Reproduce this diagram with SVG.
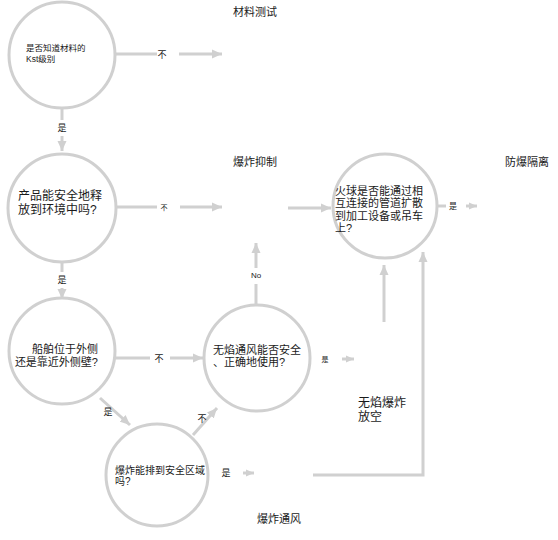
<svg xmlns="http://www.w3.org/2000/svg" width="558" height="540" viewBox="0 0 558 540">
<style>
.node circle{fill:#ffffff;stroke:#d0d0d0;stroke-width:3}
.t{font-family:"Liberation Sans","Noto Sans CJK SC",sans-serif;fill:#1a1a1a}
.lbl{font-family:"Liberation Sans","Noto Sans CJK SC",sans-serif;fill:#1a1a1a;text-anchor:middle}
.c line,.c polyline{stroke:#d0d0d0;stroke-width:3;fill:none}
</style>
<defs>
<marker id="ah" markerUnits="userSpaceOnUse" markerWidth="11" markerHeight="10" refX="10" refY="5" orient="auto" viewBox="0 0 11 10">
<path d="M0,0.5 L10,5 L0,9.5 z" fill="#d0d0d0"/>
</marker>
<marker id="ahs" markerUnits="userSpaceOnUse" markerWidth="9" markerHeight="8" refX="8" refY="4" orient="auto" viewBox="0 0 9 8">
<path d="M0,0.5 L8,4 L0,7.5 z" fill="#d0d0d0"/>
</marker>
</defs>
<rect width="558" height="540" fill="#ffffff"/>

<g id="connectors" class="c">
<line x1="116" y1="54" x2="157" y2="54"/>
<line x1="179" y1="54" x2="222" y2="54" marker-end="url(#ah)"/>
<line x1="62" y1="107" x2="62" y2="120"/>
<line x1="62" y1="136" x2="62" y2="151" marker-end="url(#ah)"/>
<line x1="116" y1="207" x2="157" y2="207"/>
<line x1="180" y1="207" x2="222" y2="207" marker-end="url(#ah)"/>
<line x1="288" y1="208" x2="331" y2="208" marker-end="url(#ah)"/>
<line x1="62" y1="262" x2="62" y2="272"/>
<line x1="62" y1="288" x2="62" y2="299" marker-end="url(#ah)"/>
<line x1="115" y1="358" x2="150" y2="358"/>
<line x1="170" y1="358" x2="203" y2="358" marker-end="url(#ah)"/>
<line x1="100" y1="398" x2="130" y2="425" marker-end="url(#ah)"/>
<line x1="193" y1="435" x2="217" y2="408" marker-end="url(#ah)"/>
<line x1="243" y1="473" x2="254" y2="473" marker-end="url(#ahs)"/>
<line x1="342" y1="359" x2="354" y2="359" marker-end="url(#ahs)"/>
<line x1="384" y1="322" x2="384" y2="265" marker-end="url(#ah)"/>
<polyline points="313,475 423,475 423,252" marker-end="url(#ah)"/>
<line x1="256" y1="305" x2="256" y2="284"/>
<line x1="256" y1="268" x2="256" y2="243" marker-end="url(#ah)"/>
<line x1="437" y1="206" x2="446" y2="206"/>
<line x1="466" y1="206" x2="477" y2="206" marker-end="url(#ahs)"/>
<text class="lbl" x="162" y="57.5" font-size="9">不</text>
<text class="lbl" x="62" y="130.5" font-size="9">是</text>
<text class="lbl" x="164" y="210" font-size="7">不</text>
<text class="lbl" x="62" y="283" font-size="9">是</text>
<text class="lbl" x="159" y="361.5" font-size="9">不</text>
<text class="lbl" x="108" y="415" font-size="9">是</text>
<text class="lbl" x="202" y="422" font-size="9">不</text>
<text class="lbl" x="226" y="476" font-size="9">是</text>
<text class="lbl" x="325" y="362" font-size="7">是</text>
<text class="lbl" x="453" y="208.5" font-size="8">是</text>
<text class="lbl" x="256" y="278" font-size="8">No</text>
</g>

<g id="n1" class="node">
<circle cx="62" cy="55" r="53"/>
<text class="t" font-size="8.5" x="26" y="51">是否知道材料的<tspan x="26" dy="11">Kst级别</tspan></text>
</g>
<g id="n2" class="node">
<circle cx="62" cy="208" r="54"/>
<text class="t" font-size="12" x="18" y="199.5">产品能安全地释<tspan x="18" dy="14">放到环境中吗?</tspan></text>
</g>
<g id="n3" class="node">
<circle cx="385" cy="206" r="52"/>
<text class="t" font-size="11" x="335" y="195">火球是否能通过相<tspan x="335" dy="12.4">互连接的管道扩散</tspan><tspan x="335" dy="12.4">到加工设备或吊车</tspan><tspan x="335" dy="12.4">上?</tspan></text>
</g>
<g id="n4" class="node">
<circle cx="62" cy="351" r="53"/>
<text class="t" font-size="11" x="98" y="353" text-anchor="end">船舶位于外侧<tspan x="98" dy="13">还是靠近外侧壁?</tspan></text>
</g>
<g id="n5" class="node">
<circle cx="257" cy="358" r="53"/>
<text class="t" font-size="11" x="213" y="354">无焰通风能否安全<tspan x="213" dy="12.4">、正确地使用?</tspan></text>
</g>
<g id="n6" class="node">
<circle cx="157" cy="475" r="51"/>
<text class="t" font-size="10" x="115" y="474">爆炸能排到安全区域<tspan x="115" dy="11.3">吗?</tspan></text>
</g>
<g id="n-test">
<text class="t" font-size="11" x="233" y="16">材料测试</text>
</g>
<g id="n-suppress">
<text class="t" font-size="11" x="233" y="166">爆炸抑制</text>
</g>
<g id="n-isolate">
<text class="t" font-size="11" x="505" y="166">防爆隔离</text>
</g>
<g id="n-vent">
<text class="t" font-size="11" x="257" y="523">爆炸通风</text>
</g>
<g id="n-flameless">
<text class="t" font-size="12" x="358" y="406.5">无焰爆炸<tspan x="358" dy="14">放空</tspan></text>
</g>
</svg>
